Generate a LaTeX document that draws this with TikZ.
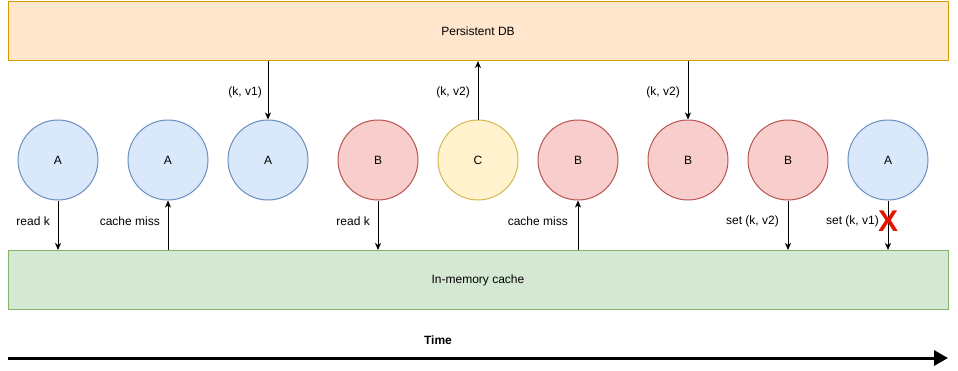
\documentclass[tikz,border=0pt]{standalone}
\usepackage{fontspec}
\setmainfont{Liberation Sans}
\usetikzlibrary{arrows.meta}
\definecolor{dbfill}{HTML}{FFE6CC}
\definecolor{dbdraw}{HTML}{D79B00}
\definecolor{cafill}{HTML}{D5E8D4}
\definecolor{cadraw}{HTML}{82B366}
\definecolor{afill}{HTML}{DAE8FC}
\definecolor{adraw}{HTML}{6C8EBF}
\definecolor{bfill}{HTML}{F8CECC}
\definecolor{bdraw}{HTML}{B85450}
\definecolor{cfill}{HTML}{FFF2CC}
\definecolor{cdraw}{HTML}{D6B656}
\definecolor{xred}{HTML}{E51400}
\begin{document}
\begin{tikzpicture}[x=1pt,y=-1pt,
  every node/.style={font=\fontsize{12}{14}\selectfont, inner sep=0pt},
  store/.style={draw, line width=1pt, minimum width=940pt, minimum height=59pt},
  proc/.style={circle, draw, line width=1pt, minimum size=80pt},
  pa/.style={proc, fill=afill, draw=adraw},
  pb/.style={proc, fill=bfill, draw=bdraw},
  pc/.style={proc, fill=cfill, draw=cdraw},
  conn/.style={line width=1pt, -{Stealth[length=7pt,width=6pt,inset=2pt]}},
  lbl/.style={anchor=east},
]
\useasboundingbox (0,0) rectangle (958,370);
\node[store, fill=dbfill, draw=dbdraw] (db) at (478,31) {Persistent DB};
\node[store, fill=cafill, draw=cadraw] (cache) at (478,280) {In-memory cache};

\node[pa] (a1) at (58,160) {A};
\node[pa] (a2) at (168,160) {A};
\node[pa] (a3) at (268,160) {A};
\node[pb] (b1) at (378,160) {B};
\node[pc] (c1) at (478,160) {C};
\node[pb] (b2) at (578,160) {B};
\node[pb] (b3) at (688,160) {B};
\node[pb] (b4) at (788,160) {B};
\node[pa] (a4) at (888,160) {A};

% A: read k
\draw[conn] (a1.south) -- (a1.south |- cache.north);
\node[lbl] (l1) at (50,221) {read k};
% A: cache miss
\draw[conn] (a2.south |- cache.north) -- (a2.south);
\node[lbl] (l2) at (160,221) {cache miss};
% A: (k, v1) from DB
\draw[conn] (a3.north |- db.south) -- (a3.north);
\node[lbl] (l3) at (262,92) {(k, v1)};
% B: read k
\draw[conn] (b1.south) -- (b1.south |- cache.north);
\node[lbl] (l4) at (370,221) {read k};
% C: write (k, v2) to DB
\draw[conn] (c1.north) -- (c1.north |- db.south);
\node[lbl] (l5) at (470,92) {(k, v2)};
% B: cache miss
\draw[conn] (b2.south |- cache.north) -- (b2.south);
\node[lbl] (l6) at (568,221) {cache miss};
% B: (k, v2) from DB
\draw[conn] (b3.north |- db.south) -- (b3.north);
\node[lbl] (l7) at (680,92) {(k, v2)};
% B: set (k, v2)
\draw[conn] (b4.south) -- (b4.south |- cache.north);
\node[lbl] (l8) at (779,221) {set (k, v2)};
% A: set (k, v1) -- failed
\draw[conn] (a4.south) -- (a4.south |- cache.north);
\node[lbl] (l9) at (879,221) {set (k, v1)};
\node[text=xred, font=\fontsize{30}{30}\selectfont\bfseries] (x) at (888,221) {X};

% Time axis
\node[font=\fontsize{12}{14}\selectfont\bfseries] (time) at (438,340) {Time};
\coordinate (t0) at (8,358);
\coordinate (t1) at (948,358);
\draw[line width=3pt, -{Triangle[length=14pt,width=15pt]}] (t0) -- (t1);
\end{tikzpicture}
\end{document}
